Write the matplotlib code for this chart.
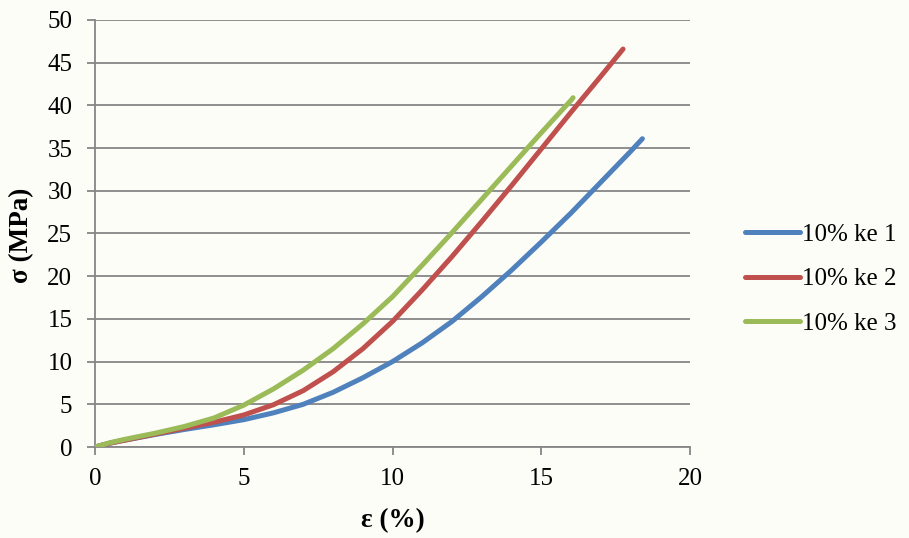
import matplotlib
matplotlib.use("Agg")
import matplotlib.pyplot as plt

plt.rcParams['font.family'] = ['Liberation Serif', 'DejaVu Serif']

x1 = [0, 0.5, 1, 2, 3, 4, 5, 6, 7, 8, 9, 10, 11, 12, 13, 14, 15, 16, 17, 18, 18.4]
y1 = [0, 0.45, 0.8, 1.45, 2.05, 2.6, 3.2, 4.0, 5.0, 6.4, 8.1, 10.0, 12.2, 14.7, 17.6, 20.7, 24.0, 27.4, 31.0, 34.6, 36.1]

x2 = [0, 0.5, 1, 2, 3, 4, 5, 6, 7, 8, 9, 10, 11, 12, 13, 14, 15, 16, 17, 17.75]
y2 = [0, 0.45, 0.8, 1.5, 2.2, 2.9, 3.75, 4.95, 6.6, 8.8, 11.5, 14.7, 18.4, 22.3, 26.4, 30.6, 34.9, 39.2, 43.4, 46.6]

x3 = [0, 0.5, 1, 2, 3, 4, 5, 6, 7, 8, 9, 10, 11, 12, 13, 14, 15, 16, 16.07]
y3 = [0, 0.5, 0.9, 1.6, 2.4, 3.4, 4.9, 6.8, 9.0, 11.5, 14.4, 17.6, 21.3, 25.1, 29.0, 32.9, 36.8, 40.6, 40.9]

labels = ['10% ke 1', '10% ke 2', '10% ke 3']
colors = ['#4F81BD', '#C0504D', '#9BBB59']

bg = '#fdfdf8'
fs = 18
fig = plt.figure(figsize=(9.09, 5.38), dpi=100, facecolor=bg)
ax = fig.add_axes([95/909, 1-447/538, (690-95)/909, (447-20)/538])
ax.set_facecolor(bg)

for xs, ys, lab, c in zip([x1, x2, x3], [y1, y2, y3], labels, colors):
    ax.plot(xs, ys, color=c, lw=3.6, label=lab, solid_capstyle='round', solid_joinstyle='round', zorder=3)

ax.set_xlim(0, 20)
ax.set_ylim(0, 50)
ax.set_xticks(range(0, 21, 5))
ax.set_yticks(range(0, 51, 5))
ax.grid(axis='y', color='#868686', lw=1.3)
ax.set_axisbelow(True)
for s in ['top', 'right']:
    ax.spines[s].set_visible(False)
for s in ['left', 'bottom']:
    ax.spines[s].set_color('#868686')
    ax.spines[s].set_linewidth(1.3)
ax.tick_params(axis='both', colors='#868686', labelcolor='black', labelsize=fs, length=5.8, width=1.3, direction='out')
ax.tick_params(axis='y', pad=10.5)
ax.tick_params(axis='x', pad=9)

ax.set_xlabel('ε (%)', fontsize=19.5, fontweight='bold')
ax.set_ylabel('σ (MPa)', fontsize=19.5, fontweight='bold')
ax.xaxis.label.set_verticalalignment('center')
ax.xaxis.set_label_coords(393/909, 1-521/538, transform=fig.transFigure)
ax.yaxis.label.set_verticalalignment('center')
ax.yaxis.set_label_coords(22/909, 1-235/538, transform=fig.transFigure)

leg = ax.legend(loc='center left', bbox_to_anchor=(732/909, 1-279/538), bbox_transform=fig.transFigure,
                frameon=False, fontsize=fs, handlelength=2.2, handletextpad=0.1, labelspacing=0.87, borderpad=0)

fig.savefig('out.png', dpi=100, facecolor=bg)
